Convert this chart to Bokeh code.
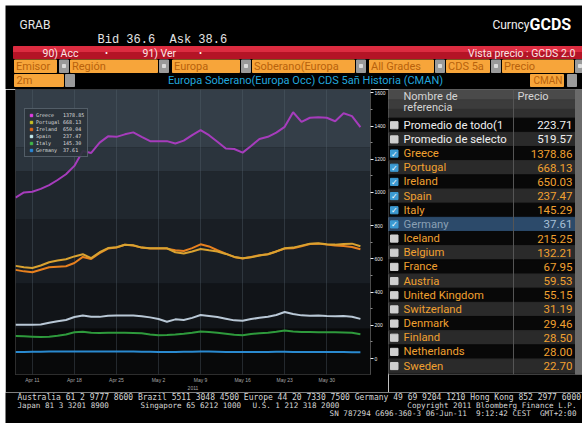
from bokeh.plotting import figure
from bokeh.models import Range1d, FixedTicker, Legend, LegendItem, BoxAnnotation
from bokeh.layouts import column, row
from bokeh.embed import file_html
from bokeh.resources import INLINE
from bokeh.core.properties import value

# ---------------- data ----------------
greece = [969, 1000, 1004, 1022, 1044, 1075, 1110, 1160, 1250, 1238, 1300, 1338, 1335, 1350, 1362,
          1335, 1309, 1309, 1309, 1295, 1312, 1345, 1375, 1345, 1305, 1265, 1262, 1240, 1280, 1322,
          1335, 1360, 1395, 1483, 1425, 1450, 1453, 1450, 1429, 1477, 1460, 1393]
portugal = [558, 550, 545, 560, 580, 590, 598, 615, 628, 605, 640, 665, 670, 685, 682, 668, 664, 664,
            664, 640, 632, 645, 660, 652, 645, 630, 612, 604, 610, 620, 628, 645, 664, 668, 680, 692,
            694, 688, 686, 690, 692, 676]
ireland = [534, 525, 520, 535, 550, 553, 556, 575, 612, 600, 635, 662, 668, 685, 680, 668, 662, 662,
           662, 652, 648, 665, 688, 675, 652, 632, 612, 602, 612, 622, 628, 645, 662, 664, 676, 690,
           692, 686, 680, 678, 672, 658]
spain = [203, 203, 203, 205, 215, 225, 232, 250, 259, 252, 251, 258, 259, 259, 259, 255, 248, 238,
         222, 236, 232, 245, 262, 256, 250, 240, 230, 228, 238, 245, 252, 262, 280, 268, 260, 258,
         259, 256, 255, 256, 252, 239]
italy = [136, 134, 132, 130, 132, 138, 145, 158, 162, 156, 154, 155, 156, 155, 154, 152, 145, 140,
         142, 145, 150, 156, 163, 160, 155, 150, 144, 140, 148, 152, 156, 162, 169, 163, 160, 160,
         159, 159, 158, 157, 155, 147]
germany = [40, 40, 41, 41, 42, 42, 43, 43, 42, 42, 42, 43, 43, 42, 42, 41, 41, 40, 40, 40, 41, 41,
           42, 42, 41, 40, 40, 39, 39, 40, 40, 41, 41, 40, 40, 40, 40, 39, 39, 39, 38, 38]
days = list(range(len(greece)))

x_ticks = [2, 7, 12, 17, 22, 27, 32, 37]
x_tick_labels = ["Apr 11", "Apr 18", "Apr 25", "May 2", "May 9", "May 16", "May 23", "May 30"]
y_ticks = [0, 200, 400, 600, 800, 1000, 1200, 1400, 1600]
y_minor = [100, 300, 500, 700, 900, 1100, 1300, 1500]

legend_names = ["Greece", "Portugal", "Ireland", "Spain", "Italy", "Germany"]
legend_values = ["1378.85", "668.13", "650.04", "237.47", "145.30", "37.61"]
legend_colors = ["#e23ee6", "#c9c224", "#e0681a", "#c8f0f2", "#41b84a", "#2a88d8"]
line_colors = ["#a63cbc", "#d9a230", "#e8801e", "#b9c8d6", "#2e9a3c", "#2a8ad0"]

table_names = ["Promedio de todo(1", "Promedio de selecto", "Greece", "Portugal", "Ireland", "Spain",
               "Italy", "Germany", "Iceland", "Belgium", "France", "Austria", "United Kingdom",
               "Switzerland", "Denmark", "Finland", "Netherlands", "Sweden"]
table_prices = ["223.71", "519.57", "1378.86", "668.13", "650.03", "237.47", "145.29", "37.61",
                "215.25", "132.21", "67.95", "59.53", "55.15", "31.19", "29.46", "28.50", "28.00",
                "22.70"]
table_checked = [0, 0, 1, 1, 1, 1, 1, 1, 0, 0, 0, 0, 0, 0, 0, 0, 0, 0]

menu_labels = ["Emisor", "Región", "Europa", "Soberano(Europa", "All Grades", "CDS 5a", "Precio"]

FONT = "Roboto"
NB = "\u00a0"


def pixfig(x0, x1, y0, y1, bg="#000000"):
    f = figure(width=x1 - x0, height=y1 - y0, x_range=Range1d(x0, x1), y_range=Range1d(y1, y0),
               toolbar_location=None, output_backend="svg", min_border=0,
               x_axis_location=None, y_axis_location=None,
               background_fill_color=bg, border_fill_color=bg,
               outline_line_color=None)
    f.xgrid.visible = False
    f.ygrid.visible = False
    return f


def txt(f, x, y, s, size, color, align="left", font=FONT, style="normal"):
    f.text(x=[x], y=[y], text=[s], text_font=value(font), text_font_size=size,
           text_color=color, text_align=align, text_baseline="middle", text_font_style=style)


# white page edges of the screenshot
top_white = pixfig(0, 582, 0, 5, bg="#ffffff")
left_white = pixfig(0, 5, 5, 423, bg="#ffffff")

# ---------------- header ----------------
hdr = pixfig(5, 582, 5, 89)
txt(hdr, 19, 24, "GRAB", "12px", "#e6e6e6")
txt(hdr, 97, 39, "Bid 36.6" + NB + NB + "Ask 38.6", "12px", "#e4e4e4", font="Liberation Mono")
txt(hdr, 529, 24, "Curncy", "12px", "#f0f0f0", align="right")
txt(hdr, 529, 24, "GCDS", "16px", "#ffffff", style="bold")
# red bar
hdr.quad(left=[13], right=[582], top=[46], bottom=[52], color="#dc2c40")
hdr.quad(left=[13], right=[582], top=[52], bottom=[58], color="#b41426")
txt(hdr, 42, 52.5, "90) Acc", "10.5px", "#fbe6e6")
txt(hdr, 106, 52.5, "•", "9px", "#ffffff", align="center")
txt(hdr, 142, 52.5, "91) Ver", "10.5px", "#fbe6e6")
txt(hdr, 200, 52.5, "•", "9px", "#ffffff", align="center")
txt(hdr, 575, 52.5, "Vista precio : GCDS 2.0", "10.5px", "#fbe6e6", align="right")
# orange menu row
box_l = [14, 70, 172, 252, 369, 446, 502]
box_r = [56, 157, 239, 354, 433, 489, 573]
btn_l = [59, 159, 241, 356, 435, 491, 575]
hdr.quad(left=box_l, right=box_r, top=[59.5] * 7, bottom=[72] * 7, color="#f7a53a")
hdr.quad(left=btn_l, right=[b + 9 for b in btn_l], top=[59.5] * 7, bottom=[72] * 7, color="#9a9a9a")
hdr.quad(left=[b + 3 for b in btn_l], right=[b + 6 for b in btn_l], top=[64] * 7, bottom=[67] * 7,
         color="#dcdcdc")
for lx, lab in zip(box_l, menu_labels):
    txt(hdr, lx + 1.5, 66, lab, "11px", "#b8620c")
# second row
hdr.quad(left=[14, 530], right=[63, 563], top=[74, 74], bottom=[86, 86], color="#f7a53a")
hdr.quad(left=[65, 567], right=[74, 576], top=[74, 74], bottom=[86, 86], color="#9a9a9a")
txt(hdr, 16, 80, "2m", "11px", "#b8620c")
txt(hdr, 533, 80, "CMAN", "10px", "#b8620c")
txt(hdr, 305, 80, "Europa Soberano(Europa Occ) CDS 5añ Historia (CMAN)", "11px", "#22a6dc",
    align="center")

# ---------------- chart ----------------
ch = figure(width=383, height=303, x_range=Range1d(0, 42.2), y_range=Range1d(-96, 1620),
            toolbar_location=None, output_backend="svg",
            min_border_left=10, min_border_right=18, min_border_top=0, min_border_bottom=16,
            x_axis_location="below", y_axis_location="right",
            background_fill_color="#000000", border_fill_color="#000000",
            outline_line_color="#3a3a3a")
# background gradient bands (value units of the chart)
band_tops = [1620, 1270, 1125, 840, 450, 180]
band_bots = [1270, 1125, 840, 450, 180, -96]
band_cols = ["#343e48", "#2b343d", "#20272e", "#191e24", "#111418", "#08090a"]
for t, b, c in zip(band_tops, band_bots, band_cols):
    ch.add_layout(BoxAnnotation(top=t, bottom=b, fill_color=c, fill_alpha=1.0, line_color=None,
                                level="image"))
ch.ygrid.visible = False
ch.xgrid.ticker = FixedTicker(ticks=x_ticks)
ch.xgrid.grid_line_color = "#5a6672"
ch.xgrid.grid_line_alpha = 0.35
ch.xgrid.level = "underlay"

series = [greece, portugal, ireland, spain, italy, germany]
for s, c in reversed(list(zip(series, line_colors))):
    ch.line(days, s, line_color=c, line_width=2)

xa = ch.xaxis[0]
xa.ticker = FixedTicker(ticks=x_ticks)
xa.major_label_overrides = {t: l for t, l in zip(x_ticks, x_tick_labels)}
xa.major_label_text_font_size = "5px"
xa.major_label_text_color = "#a8a8a8"
xa.major_label_standoff = 2
xa.major_tick_out = 0
xa.major_tick_in = 0
xa.minor_tick_out = 0
xa.axis_line_color = None
xa.axis_label = "2011"
xa.axis_label_text_font_size = "5px"
xa.axis_label_text_color = "#a8a8a8"
xa.axis_label_text_font_style = "normal"
xa.axis_label_standoff = 0

ya = ch.yaxis[0]
ya.ticker = FixedTicker(ticks=y_ticks, minor_ticks=y_minor)
ya.major_label_text_font_size = "5px"
ya.major_label_text_color = "#e8e8e8"
ya.major_label_standoff = 1
ya.major_tick_out = 3
ya.major_tick_in = 0
ya.major_tick_line_color = "#f0f0f0"
ya.minor_tick_out = 2
ya.minor_tick_in = 0
ya.minor_tick_line_color = "#8a8a8a"
ya.axis_line_color = "#4a4a4a"

items = []
for n, v, c in zip(legend_names, legend_values, legend_colors):
    # swatch renderer kept outside the visible range; only its legend glyph shows
    r = ch.scatter(x=[-50], y=[-5000], marker="square", size=6, fill_color=c, line_color=c)
    items.append(LegendItem(label=n + NB * (9 - len(n)) + v, renderers=[r]))
leg = Legend(items=items, location=(9, 217), glyph_width=6, glyph_height=6, label_height=6,
             label_width=10, spacing=1, padding=3, margin=0, label_standoff=2,
             label_text_font="DejaVu Sans Mono", label_text_font_size="5px",
             label_text_color="#dcdcdc", background_fill_color="#2a323a",
             background_fill_alpha=0.9, border_line_color="#7a8894", border_line_width=1)
ch.add_layout(leg)

# ---------------- table ----------------
tb = pixfig(388, 582, 89, 392)
tb.quad(left=[388], right=[575], top=[89], bottom=[100], color="#4a4a4a")
tb.quad(left=[388], right=[575], top=[100], bottom=[110], color="#3c3c3c")
tb.quad(left=[388], right=[575], top=[110], bottom=[120], color="#303030")
txt(tb, 403, 96, "Nombre de", "11px", "#d4d4d4")
txt(tb, 403, 108, "referencia", "11px", "#d4d4d4")
txt(tb, 517, 96, "Precio", "11px", "#d4d4d4")
row_h = 15.06
y_first = 127
for i, (n, p, ck) in enumerate(zip(table_names, table_prices, table_checked)):
    yc = y_first + i * row_h
    if n == "Germany":
        bg, tc, vc = "#2c4a6a", "#8aa0b4", "#a8c0d6"
    else:
        bg = "#2a2a2a" if i % 2 == 1 else "#080808"
        tc = "#f0f0f0" if n.startswith("Promedio") else "#f0a030"
        vc = tc
    tb.quad(left=[388], right=[575], top=[yc - row_h / 2], bottom=[yc + row_h / 2], color=bg)
    if ck:
        tb.quad(left=[390], right=[397.5], top=[yc - 3.8], bottom=[yc + 3.8], color="#3c9ad2")
        txt(tb, 393.8, yc + 0.5, "✓", "8px", "#ffffff", align="center", font="DejaVu Sans")
    else:
        tb.quad(left=[390], right=[397.5], top=[yc - 3.8], bottom=[yc + 3.8], color="#cfcfcf")
    txt(tb, 403, yc, n, "11.3px", tc)
    txt(tb, 572, yc, p, "11.5px", vc, align="right")
tb.segment(x0=[513], y0=[89], x1=[513], y1=[392], line_color="#555555", line_width=1)
tb.quad(left=[575], right=[582], top=[89], bottom=[392], color="#6a6a6a")

# ---------------- footer ----------------
ft = pixfig(5, 582, 392, 423)
MONO = "DejaVu Sans Mono"
txt(ft, 17, 397, "Australia 61 2 9777 8600 Brazil 5511 3048 4500 Europe 44 20 7330 7500 Germany 49 69 9204 1210 Hong Kong 852 2977 6000",
    "8px", "#d6d6d6", font=MONO)
txt(ft, 17, 405, "Japan 81 3 3201 8900", "7.6px", "#d6d6d6", font=MONO)
txt(ft, 140, 405, "Singapore 65 6212 1000", "7.6px", "#d6d6d6", font=MONO)
txt(ft, 252, 405, "U.S. 1 212 318 2000", "7.6px", "#d6d6d6", font=MONO)
txt(ft, 576, 405, "Copyright 2011 Bloomberg Finance L.P.", "7.6px", "#d6d6d6", font=MONO,
    align="right")
txt(ft, 576, 412.5, "SN 787294 G696-360-3 06-Jun-11" + NB + NB + "9:12:42 CEST" + NB + NB + "GMT+2:00",
    "7.6px", "#d6d6d6", font=MONO, align="right")

inner = column(hdr, row(ch, tb), ft)
layout = column(top_white, row(left_white, inner))
open("out.html", "w").write(file_html(layout, INLINE))
